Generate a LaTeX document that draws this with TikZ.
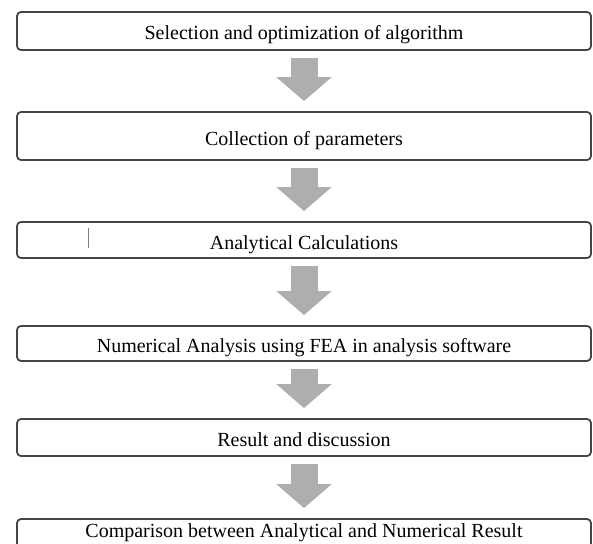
\documentclass[tikz,border=0pt]{standalone}
\usepackage{fontspec}
\setmainfont{Liberation Serif}
\usetikzlibrary{arrows.meta}
\definecolor{framegray}{HTML}{454545}
\definecolor{arrowgray}{HTML}{AEAEAE}

\begin{document}
\begin{tikzpicture}[x=1pt,y=1pt,
    stage/.style={draw=framegray, line width=1.8pt, rounded corners=4pt, minimum width=574pt, inner sep=0pt, text height=19pt, text depth=1pt, font=\fontsize{20}{24}\selectfont},
    flow/.style={arrowgray, line width=27pt, -{Triangle[width=54pt,length=24pt]}, shorten <=7pt, shorten >=10pt}]
        % Fix the page size
        \useasboundingbox (0,0) rectangle (593,-543);
        % Draw the stages
        \node[stage, minimum height=38pt] (sel) at (304,-31) {Selection and optimization of algorithm};
        \node[stage, minimum height=48pt] (par) at (304,-136) {Collection of parameters};
        \node[stage, minimum height=36pt] (ana) at (304,-240) {Analytical Calculations};
        \node[stage, minimum height=35pt] (num) at (304,-343.5) {Numerical Analysis using FEA in analysis software};
        \node[stage, minimum height=37pt] (res) at (304,-437.5) {Result and discussion};
        \node[stage, minimum height=30pt, text height=11pt, text depth=5pt] (cmp) at (304,-534) {Comparison between Analytical and Numerical Result};
        % Draw the arrows between stages
        \foreach \a/\b in {sel/par,par/ana,ana/num,num/res,res/cmp}
            \draw[flow] (\a) -- (\b);
        % Stray mark in the third box
        \draw[framegray!70, line width=1pt] (88,-228) -- (88,-248);
\end{tikzpicture}
\end{document}
